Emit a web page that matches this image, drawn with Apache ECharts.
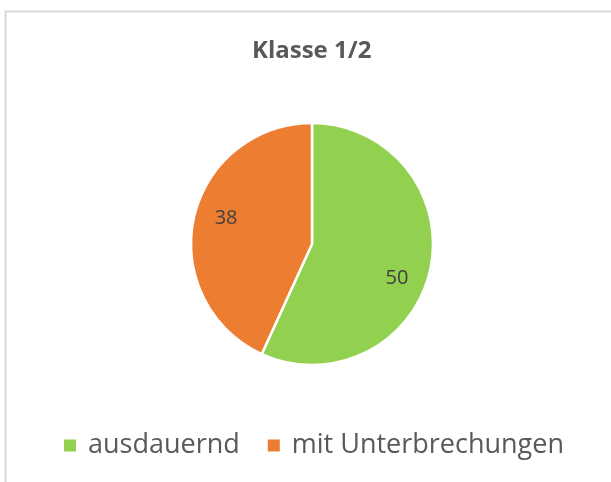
<!DOCTYPE html>
<html>
<head>
<meta charset="utf-8">
<script src="https://cdn.jsdelivr.net/npm/echarts@6/dist/echarts.min.js"></script>
<style>
  html, body { margin: 0; padding: 0; background: #fff; }
  #chart { width: 611px; height: 482px; }
</style>
</head>
<body>
<div id="chart"></div>
<script>
const categories = ['ausdauernd', 'mit Unterbrechungen'];
const values = [50, 38];
const colors = ['#92d050', '#ed7d31'];
const titleText = 'Klasse 1/2';

// small nudges so the value labels sit where Excel put them
const labelOffsets = [[-4, 15], [3, -6]];

const chart = echarts.init(document.getElementById('chart'));

const font = '"Open Sans", "Noto Sans", sans-serif';

chart.setOption({
  animation: false,
  graphic: [{
    type: 'rect',
    silent: true,
    shape: { x: 5.5, y: 11.5, width: 700, height: 600 },
    style: { fill: 'none', stroke: '#d9d9d9', lineWidth: 2 }
  }],
  title: {
    text: titleText,
    left: 252,
    top: 39,
    padding: 0,
    textStyle: { fontFamily: font, fontSize: 24, fontWeight: 'bold', color: '#595959' }
  },
  legend: {
    data: categories,
    bottom: 18,
    left: 57,
    icon: 'rect',
    itemWidth: 14,
    itemHeight: 14,
    itemGap: 26,
    textStyle: { fontFamily: font, fontSize: 27, color: '#595959', padding: [0, 0, 0, 6] }
  },
  series: [
    {
      type: 'pie',
      center: [312, 244],
      radius: [0, 121],
      startAngle: 90,
      clockwise: true,
      silent: true,
      data: categories.map((name, i) => ({ name, value: values[i], itemStyle: { color: colors[i] } })),
      itemStyle: { borderColor: '#fff', borderWidth: 2.5 },
      label: { show: false },
      labelLine: { show: false }
    },
    {
      // transparent ring only used to place the value labels at ~0.73 r
      type: 'pie',
      center: [312, 244],
      radius: [55, 121],
      startAngle: 90,
      clockwise: true,
      silent: true,
      data: categories.map((name, i) => ({
        name,
        value: values[i],
        label: { offset: labelOffsets[i] }
      })),
      itemStyle: { color: 'rgba(0,0,0,0)', borderWidth: 0 },
      label: {
        show: true,
        position: 'inside',
        formatter: '{c}',
        fontFamily: font,
        fontSize: 20,
        color: '#404040'
      },
      labelLine: { show: false }
    }
  ]
});
</script>
</body>
</html>
